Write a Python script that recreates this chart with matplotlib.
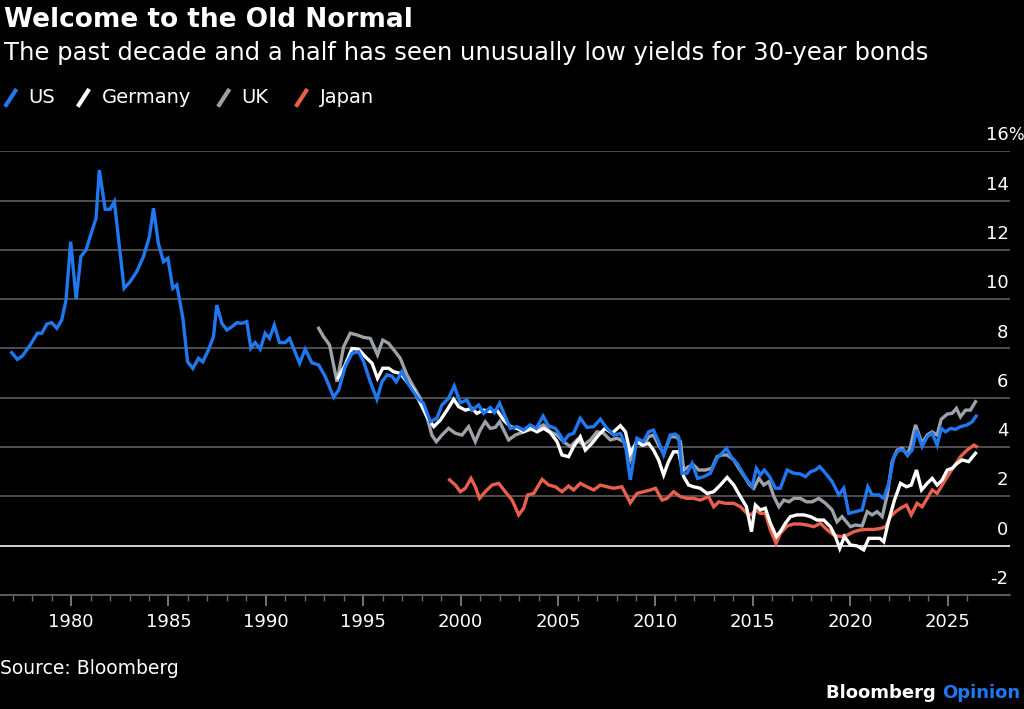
import numpy as np
import matplotlib
matplotlib.use("Agg")
import matplotlib.pyplot as plt
from matplotlib.lines import Line2D

# 30-year government bond yields (decimal year, %)
us_years = [1976.95, 1977.24, 1977.5, 1977.9, 1978.27, 1978.5, 1978.75, 1979.0, 1979.27, 1979.52,
            1979.74, 1979.98, 1980.26, 1980.5, 1980.77, 1981.0, 1981.28, 1981.45, 1981.75, 1982.0,
            1982.22, 1982.48, 1982.72, 1983.03, 1983.37, 1983.71, 1984.02, 1984.23, 1984.48, 1984.74,
            1984.97, 1985.22, 1985.43, 1985.74, 1985.98, 1986.25, 1986.54, 1986.76, 1987.05, 1987.31,
            1987.48, 1987.74, 1988.0, 1988.25, 1988.51, 1988.77, 1989.02, 1989.23, 1989.45, 1989.71,
            1989.96, 1990.19, 1990.43, 1990.7, 1990.99, 1991.21, 1991.42, 1991.73, 1992.02, 1992.36,
            1992.71, 1993.05, 1993.48, 1993.74, 1994.07, 1994.42, 1994.76, 1995.02, 1995.36, 1995.7,
            1995.96, 1996.22, 1996.47, 1996.69, 1996.98, 1997.24, 1997.58, 1997.84, 1998.09, 1998.44,
            1998.78, 1999.04, 1999.38, 1999.67, 1999.98, 2000.32, 2000.58, 2000.92, 2001.18, 2001.52,
            2001.73, 2002.0, 2002.29, 2002.55, 2002.89, 2003.23, 2003.57, 2003.88, 2004.23, 2004.51,
            2004.86, 2005.11, 2005.28, 2005.54, 2005.8, 2006.14, 2006.48, 2006.83, 2007.17, 2007.51,
            2007.86, 2008.2, 2008.46, 2008.71, 2009.05, 2009.39, 2009.65, 2009.9, 2010.16, 2010.42,
            2010.76, 2011.02, 2011.19, 2011.36, 2011.62, 2011.88, 2012.16, 2012.48, 2012.82, 2013.16,
            2013.42, 2013.64, 2013.93, 2014.19, 2014.44, 2014.7, 2014.96, 2015.18, 2015.39, 2015.59,
            2015.86, 2016.16, 2016.41, 2016.76, 2017.1, 2017.44, 2017.7, 2017.96, 2018.21, 2018.43,
            2018.73, 2019.07, 2019.41, 2019.67, 2019.92, 2020.27, 2020.61, 2020.9, 2021.12, 2021.47,
            2021.72, 2021.98, 2022.24, 2022.49, 2022.75, 2022.96, 2023.18, 2023.4, 2023.69, 2023.95,
            2024.21, 2024.46, 2024.67, 2024.89, 2025.15, 2025.4, 2025.66, 2026.0, 2026.26, 2026.46]
us_vals = [7.83, 7.56, 7.70, 8.14, 8.62, 8.62, 8.99, 9.05, 8.82, 9.16,
           9.97, 12.33, 10.0, 11.73, 12.0, 12.6, 13.28, 15.24, 13.65, 13.65,
           13.96, 12.13, 10.44, 10.71, 11.12, 11.72, 12.54, 13.69, 12.27, 11.52,
           11.66, 10.44, 10.58, 9.22, 7.46, 7.19, 7.60, 7.46, 7.94, 8.48,
           9.76, 9.02, 8.75, 8.88, 9.05, 9.02, 9.09, 8.01, 8.24, 7.97,
           8.62, 8.41, 8.95, 8.24, 8.24, 8.41, 8.01, 7.40, 7.97, 7.42,
           7.33, 6.86, 6.02, 6.32, 7.26, 7.80, 7.87, 7.46, 6.65, 5.94,
           6.65, 6.93, 6.88, 6.65, 7.06, 6.65, 6.25, 5.94, 5.78, 5.03,
           5.17, 5.71, 5.98, 6.48, 5.80, 5.91, 5.50, 5.71, 5.37, 5.61,
           5.40, 5.78, 5.23, 4.76, 4.83, 4.69, 4.90, 4.76, 5.26, 4.86,
           4.76, 4.49, 4.22, 4.49, 4.56, 5.17, 4.80, 4.83, 5.13, 4.76,
           4.49, 4.55, 4.08, 2.67, 4.36, 4.22, 4.62, 4.69, 4.22, 3.68,
           4.49, 4.53, 4.42, 2.94, 2.94, 3.34, 2.73, 2.80, 2.94, 3.55,
           3.75, 3.95, 3.55, 3.34, 3.00, 2.67, 2.39, 3.14, 2.87, 3.07,
           2.80, 2.33, 2.33, 3.07, 2.94, 2.91, 2.80, 3.00, 3.07, 3.21,
           2.94, 2.60, 2.06, 2.33, 1.31, 1.38, 1.45, 2.39, 2.06, 2.06,
           1.92, 2.53, 3.61, 3.88, 3.88, 3.68, 3.88, 4.69, 4.02, 4.42,
           4.56, 4.08, 4.76, 4.62, 4.76, 4.72, 4.83, 4.90, 5.03, 5.26]

de_years = [1993.7, 1994.07, 1994.42, 1994.76, 1995.1, 1995.45, 1995.73, 1996.0, 1996.3, 1996.55,
            1996.9, 1997.24, 1997.58, 1997.93, 1998.27, 1998.62, 1998.96, 1999.3, 1999.64, 1999.9,
            2000.24, 2000.58, 2000.83, 2001.18, 2001.52, 2001.86, 2002.2, 2002.55, 2002.89, 2003.23,
            2003.57, 2003.92, 2004.26, 2004.6, 2004.95, 2005.2, 2005.54, 2005.8, 2006.14, 2006.4,
            2006.74, 2007.08, 2007.42, 2007.77, 2008.2, 2008.46, 2008.71, 2009.05, 2009.31, 2009.65,
            2009.9, 2010.16, 2010.42, 2010.67, 2010.93, 2011.19, 2011.45, 2011.7, 2011.96, 2012.3,
            2012.65, 2012.99, 2013.33, 2013.68, 2014.02, 2014.36, 2014.67, 2014.93, 2015.13, 2015.39,
            2015.64, 2015.9, 2016.21, 2016.41, 2016.67, 2016.93, 2017.27, 2017.61, 2017.96, 2018.3,
            2018.64, 2018.98, 2019.24, 2019.46, 2019.7, 2020.01, 2020.35, 2020.69, 2020.95, 2021.24,
            2021.52, 2021.72, 2021.98, 2022.27, 2022.58, 2022.89, 2023.13, 2023.4, 2023.66, 2023.95,
            2024.21, 2024.46, 2024.72, 2024.98, 2025.23, 2025.49, 2025.74, 2026.08, 2026.43]
de_vals = [6.80, 7.33, 8.0, 7.97, 7.67, 7.40, 6.79, 7.20, 7.20, 7.06,
           6.99, 6.65, 6.32, 5.78, 5.23, 4.83, 5.10, 5.50, 5.94, 5.64,
           5.50, 5.57, 5.37, 5.50, 5.44, 5.50, 5.10, 4.83, 4.76, 4.62,
           4.76, 4.62, 4.76, 4.59, 4.22, 3.68, 3.61, 4.02, 4.42, 3.88,
           4.15, 4.49, 4.76, 4.56, 4.87, 4.62, 3.75, 4.22, 4.08, 4.15,
           3.88, 3.48, 2.87, 3.41, 3.81, 3.81, 2.80, 2.46, 2.39, 2.33,
           2.12, 2.19, 2.46, 2.77, 2.46, 1.99, 1.58, 0.57, 1.65, 1.45,
           1.52, 0.91, 0.37, 0.57, 0.91, 1.18, 1.25, 1.25, 1.18, 1.04,
           1.04, 0.77, 0.37, -0.11, 0.37, 0.03, -0.01, -0.17, 0.30, 0.30,
           0.30, 0.16, 1.04, 1.85, 2.53, 2.39, 2.46, 3.07, 2.26, 2.53,
           2.73, 2.46, 2.67, 3.07, 3.14, 3.34, 3.48, 3.41, 3.75]

uk_years = [1992.71, 1992.96, 1993.27, 1993.65, 1993.99, 1994.33, 1994.68, 1995.02, 1995.36, 1995.73,
            1996.0, 1996.3, 1996.64, 1996.9, 1997.24, 1997.58, 1997.93, 1998.27, 1998.52, 1998.75,
            1999.04, 1999.38, 1999.73, 2000.07, 2000.41, 2000.75, 2001.0, 2001.26, 2001.52, 2001.78,
            2002.0, 2002.29, 2002.46, 2002.8, 2003.15, 2003.49, 2003.92, 2004.26, 2004.6, 2004.95,
            2005.28, 2005.63, 2005.97, 2006.31, 2006.66, 2007.0, 2007.34, 2007.68, 2008.03, 2008.37,
            2008.71, 2009.05, 2009.39, 2009.65, 2009.9, 2010.16, 2010.42, 2010.76, 2011.07, 2011.28,
            2011.45, 2011.7, 2011.96, 2012.22, 2012.56, 2012.9, 2013.16, 2013.42, 2013.68, 2014.02,
            2014.28, 2014.57, 2014.84, 2015.05, 2015.31, 2015.56, 2015.82, 2016.08, 2016.34, 2016.59,
            2016.85, 2017.1, 2017.44, 2017.75, 2018.04, 2018.38, 2018.73, 2019.07, 2019.32, 2019.58,
            2020.01, 2020.27, 2020.61, 2020.87, 2021.12, 2021.38, 2021.64, 2021.9, 2022.15, 2022.41,
            2022.67, 2022.93, 2023.09, 2023.35, 2023.69, 2023.95, 2024.21, 2024.46, 2024.67, 2024.98,
            2025.23, 2025.45, 2025.66, 2025.92, 2026.17, 2026.43]
uk_vals = [8.82, 8.48, 8.14, 6.65, 8.07, 8.62, 8.55, 8.45, 8.41, 7.74,
           8.34, 8.21, 7.87, 7.60, 6.93, 6.45, 5.98, 5.23, 4.49, 4.22,
           4.49, 4.76, 4.56, 4.49, 4.83, 4.22, 4.69, 5.03, 4.76, 4.80,
           5.03, 4.56, 4.29, 4.49, 4.59, 4.69, 4.76, 4.90, 4.62, 4.49,
           4.22, 4.02, 4.29, 4.08, 4.29, 4.62, 4.56, 4.29, 4.36, 4.22,
           3.48, 4.29, 4.08, 4.42, 4.49, 4.08, 3.75, 4.42, 4.42, 4.22,
           3.07, 3.21, 3.27, 3.07, 3.07, 3.14, 3.61, 3.68, 3.68, 3.48,
           3.14, 2.80, 2.46, 2.33, 2.73, 2.46, 2.60, 1.99, 1.58, 1.85,
           1.78, 1.92, 1.92, 1.78, 1.78, 1.92, 1.72, 1.45, 0.97, 1.18,
           0.77, 0.84, 0.80, 1.38, 1.25, 1.38, 1.18, 2.06, 3.41, 3.88,
           3.95, 3.68, 4.02, 4.90, 4.15, 4.49, 4.62, 4.49, 5.13, 5.34,
           5.37, 5.57, 5.23, 5.50, 5.50, 5.84]

jp_years = [1999.43, 1999.73, 1999.98, 2000.24, 2000.53, 2000.75, 2000.97, 2001.26, 2001.61, 2001.95,
            2002.29, 2002.64, 2002.98, 2003.23, 2003.44, 2003.75, 2004.18, 2004.52, 2004.86, 2005.2,
            2005.54, 2005.8, 2006.14, 2006.48, 2006.83, 2007.17, 2007.51, 2007.86, 2008.28, 2008.71,
            2009.05, 2009.39, 2009.74, 2010.0, 2010.34, 2010.6, 2010.93, 2011.28, 2011.62, 2011.96,
            2012.3, 2012.73, 2012.99, 2013.25, 2013.59, 2014.02, 2014.36, 2014.7, 2014.93, 2015.13,
            2015.39, 2015.64, 2015.9, 2016.19, 2016.41, 2016.76, 2017.1, 2017.44, 2017.78, 2018.13,
            2018.47, 2018.82, 2019.16, 2019.5, 2019.84, 2020.19, 2020.53, 2020.87, 2021.22, 2021.56,
            2021.82, 2022.07, 2022.33, 2022.58, 2022.89, 2023.13, 2023.43, 2023.69, 2023.95, 2024.21,
            2024.46, 2024.72, 2024.98, 2025.32, 2025.66, 2026.0, 2026.35, 2026.48]
jp_vals = [2.67, 2.46, 2.19, 2.33, 2.73, 2.39, 1.92, 2.19, 2.46, 2.53,
           2.19, 1.85, 1.25, 1.52, 2.06, 2.12, 2.69, 2.46, 2.39, 2.19,
           2.42, 2.26, 2.53, 2.39, 2.26, 2.46, 2.39, 2.33, 2.39, 1.74,
           2.12, 2.19, 2.26, 2.33, 1.85, 1.92, 2.19, 1.99, 1.92, 1.92,
           1.85, 1.99, 1.58, 1.78, 1.72, 1.72, 1.58, 1.31, 1.25, 1.45,
           1.31, 1.31, 0.64, 0.10, 0.50, 0.80, 0.88, 0.88, 0.84, 0.77,
           0.91, 0.64, 0.43, 0.37, 0.43, 0.57, 0.64, 0.66, 0.66, 0.70,
           0.77, 1.18, 1.38, 1.52, 1.65, 1.25, 1.72, 1.58, 1.92, 2.26,
           2.12, 2.46, 2.80, 3.21, 3.61, 3.88, 4.08, 4.02]

series_names = ["US", "Germany", "UK", "Japan"]
series_colors = ["#1f78f0", "#ffffff", "#9da1a8", "#e8604c"]
y_ticks = [-2, 0, 2, 4, 6, 8, 10, 12, 14, 16]
x_major = list(range(1980, 2026, 5))

plt.rcParams["font.family"] = ["DejaVu Sans"]

fig = plt.figure(figsize=(10.24, 7.09), dpi=100, facecolor="black")
ax = fig.add_axes([0.0, 0.1608, 0.9863, 0.6258], facecolor="black")

for y in y_ticks[1:]:
    ax.axhline(y, color="#5c5c5c", lw=1.2, zorder=1)
ax.axhline(0, color="#d0d0d0", lw=1.4, zorder=2)

data = [(us_years, us_vals), (de_years, de_vals), (uk_years, uk_vals), (jp_years, jp_vals)]
draw_order = [3, 2, 1, 0]
for i in draw_order:
    xs, ys = data[i]
    ax.plot(xs, ys, color=series_colors[i], lw=2.4, solid_joinstyle="miter", zorder=3 + (3 - i))

ax.set_xlim(1976.35, 2028.2)
ax.set_ylim(-2, 16)
for s in ["top", "right", "left"]:
    ax.spines[s].set_visible(False)
ax.spines["bottom"].set_color("#6a6a6a")
ax.spines["bottom"].set_linewidth(1.2)

ax.set_xticks(x_major)
ax.set_xticks(range(1977, 2027), minor=True)
ax.tick_params(axis="x", which="major", length=8, width=1.2, color="#8a8a8a",
               labelsize=13, labelcolor="white", pad=5)
ax.tick_params(axis="x", which="minor", length=4, width=1, color="#6a6a6a")
ax.set_yticks([])

# y tick labels sit above their gridlines, right side
for y in y_ticks:
    ax.annotate(f"{y}", xy=(1.0, y), xycoords=("axes fraction", "data"),
                xytext=(-1, 5), textcoords="offset points",
                ha="right", va="bottom", color="white", fontsize=13)
ax.annotate("%", xy=(1.0, 16), xycoords=("axes fraction", "data"),
            xytext=(-1, 5), textcoords="offset points",
            ha="left", va="bottom", color="white", fontsize=12)

fig.text(0.004, 0.962, "Welcome to the Old Normal", color="white", fontsize=19,
         fontweight="bold", va="baseline")
fig.text(0.004, 0.916, "The past decade and a half has seen unusually low yields for 30-year bonds",
         color="white", fontsize=17.5, va="baseline")

# legend with slanted swatches
lx = [0.004, 0.075, 0.212, 0.288]
for i, name in enumerate(series_names):
    x0 = lx[i]
    fig.add_artist(Line2D([x0 + 0.002, x0 + 0.011], [0.852, 0.872], transform=fig.transFigure,
                          color=series_colors[i], lw=3))
    fig.text(x0 + 0.024, 0.862, name, color="white", fontsize=14, va="center")

fig.text(0.0, 0.057, "Source: Bloomberg", color="white", fontsize=13.5, va="center")
t2 = fig.text(0.996, 0.022, "Opinion", color="#1f78f0", fontsize=13,
              fontweight="bold", va="center", ha="right")
fig.canvas.draw()
bb = t2.get_window_extent()
fig.text(bb.x0 / fig.bbox.width, 0.022, "Bloomberg ", color="white", fontsize=13,
         fontweight="bold", va="center", ha="right")

fig.savefig("out.png", dpi=100, facecolor="black")
